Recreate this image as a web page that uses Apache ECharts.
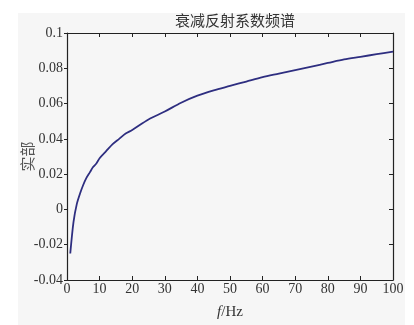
<!DOCTYPE html>
<html><head><meta charset="utf-8">
<script src="https://cdn.jsdelivr.net/npm/echarts@6/dist/echarts.min.js"></script>
<style>
html,body{margin:0;padding:0;background:#fff;}
#panel{position:absolute;left:18px;top:13px;width:387px;height:312px;background:#f6f6f6;}
#c{position:absolute;left:0;top:0;width:414px;height:325px;}
</style></head>
<body><div id="panel"></div><div id="c"></div>
<script>
const titleText = "衰减反射系数频谱";
const yName = "实部";
const freq = [1,2,3,4,5,6,7,8,9,10,12,14,16,18,20,25,30,35,40,45,50,55,60,65,70,75,80,85,90,95,100];
const realPart = [-0.025,-0.007,0.003,0.009,0.014,0.018,0.021,0.024,0.026,0.029,0.033,0.037,0.040,0.043,0.045,0.051,0.0555,0.0605,0.0645,0.0675,0.070,0.0725,0.075,0.077,0.079,0.081,0.083,0.085,0.0865,0.088,0.0895];
const xTicks = [0,10,20,30,40,50,60,70,80,90,100];
const yTicks = [-0.04,-0.02,0,0.02,0.04,0.06,0.08,0.1];

const serif = "Liberation Serif";
const chart = echarts.init(document.getElementById('c'), null, {renderer:'canvas'});
const axisLine = {show:true, onZero:false, lineStyle:{color:'#222', width:1.2}};
const tickIn = {show:true, inside:true, length:4, lineStyle:{color:'#222'}};
const tickOut = {show:true, inside:false, length:3, lineStyle:{color:'#222'}};
chart.setOption({
  animation:false,
  backgroundColor:'transparent',
  title:{text:titleText, left:230, top:8, textAlign:'center',
    textStyle:{fontFamily:'Noto Sans CJK SC', fontSize:15, fontWeight:'normal', color:'#333'}},
  grid:{left:67, right:21, top:33, bottom:37, containLabel:false},
  xAxis:[
    {type:'value', min:0, max:100, interval:10, position:'bottom',
     axisLine:axisLine, axisTick:tickIn, splitLine:{show:false},
     axisLabel:{fontFamily:serif, fontSize:14, color:'#333', margin:2},
     name:'{i|f}/Hz', nameLocation:'middle', nameGap:25, nameMoveOverlap:false,
     nameTextStyle:{fontFamily:serif, fontSize:15, color:'#333',
       rich:{i:{fontFamily:serif, fontStyle:'italic', fontSize:15, color:'#333'}}}},
    {type:'value', min:0, max:100, interval:10, position:'top',
     axisLine:axisLine, axisTick:tickIn, axisLabel:{show:false}, splitLine:{show:false}}
  ],
  yAxis:[
    {type:'value', min:-0.04, max:0.1, interval:0.02, position:'left',
     axisLine:axisLine, axisTick:tickOut, splitLine:{show:false},
     axisLabel:{fontFamily:serif, fontSize:14, color:'#333', margin:4,
       formatter:v=>String(Math.round(v*100)/100)},
     name:yName, nameLocation:'middle', nameGap:32, nameRotate:90, nameMoveOverlap:false,
     nameTextStyle:{fontFamily:'Noto Sans CJK SC', fontSize:15, color:'#555'}},
    {type:'value', min:-0.04, max:0.1, interval:0.02, position:'right',
     axisLine:axisLine, axisTick:tickIn, axisLabel:{show:false}, splitLine:{show:false}}
  ],
  series:[{type:'line', data:freq.map((f,i)=>[f,realPart[i]]), smooth:0.3,
    showSymbol:false, lineStyle:{color:'#2e2e80', width:1.8}}]
});
</script></body></html>
